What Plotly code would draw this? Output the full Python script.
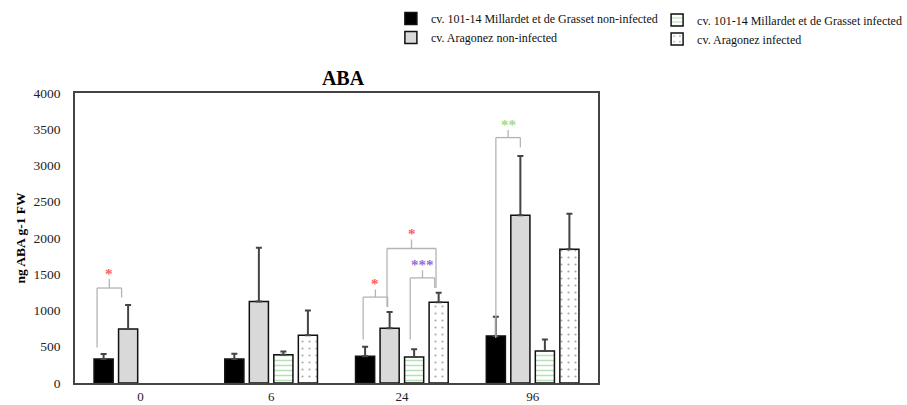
import plotly.graph_objects as go

# ---------------- data ----------------
categories = ["0", "6", "24", "96"]

series_names = [
    "cv. 101-14 Millardet et de Grasset non-infected",
    "cv. Aragonez non-infected",
    "cv. 101-14 Millardet et de Grasset infected",
    "cv. Aragonez infected",
]

black_vals = [330, 330, 370, 650]
black_err = [70, 75, 130, 265]

gray_vals = [745, 1125, 755, 2315]
gray_err = [330, 740, 225, 815]

green_vals = [None, 390, 360, 440]
green_err = [0, 45, 105, 160]

dotted_vals = [None, 660, 1115, 1845]
dotted_err = [0, 340, 130, 490]

y_ticks = [0, 500, 1000, 1500, 2000, 2500, 3000, 3500, 4000]

# significance brackets
br_group = [0, 2, 2, 2, 3]
br_left_bar = [0, 0, 2, 1, 0]
br_right_bar = [1, 1, 3, 3, 1]
br_shift = [-0.05, -0.015, -0.03, -0.02, 0.0]
br_left_bottom = [490, 600, 600, 1050, 620]
br_right_bottom = [1180, 1050, 1310, 1310, 3250]
br_level = [1310, 1185, 1450, 1855, 3385]
br_tick_top = [1435, 1290, 1555, 1980, 3490]
br_label = ["*", "*", "***", "*", "**"]
br_color = ["#ff5b5b", "#ff5b5b", "#9a6ad8", "#ff5b5b", "#9ede7c"]

# ---------------- style ----------------
FONT = "Liberation Serif, Times New Roman, serif"
BARGAP = 0.25
BARGROUPGAP = 0.22
N = 4

fig = go.Figure()

def add_bar(name, vals, errs, fill, pattern=None, legend="legend"):
    fig.add_trace(go.Bar(
        x=categories, y=vals, name=name,
        marker=dict(color=fill, line=dict(color="#111111", width=1.5),
                    pattern=pattern if pattern else dict(shape="")),
        error_y=dict(type="data", array=errs, arrayminus=[0] * len(errs),
                     symmetric=False, color="#444444", thickness=2, width=3),
        legend=legend,
    ))

add_bar(series_names[0], black_vals, black_err, "#000000", legend="legend")
add_bar(series_names[1], gray_vals, gray_err, "#d9d9d9", legend="legend")
add_bar(series_names[2], green_vals, green_err, "#ffffff",
        pattern=dict(shape="-", fgcolor="#72c272", bgcolor="#ffffff", size=5, solidity=0.3),
        legend="legend2")
add_bar(series_names[3], dotted_vals, dotted_err, "#ffffff",
        pattern=dict(shape=".", fgcolor="#555555", bgcolor="#ffffff", size=7, solidity=0.08),
        legend="legend2")

slot = (1 - BARGAP) / N
def bar_x(group, bar):
    return group - (1 - BARGAP) / 2 + slot * (bar + 0.5)

line_style = dict(color="#b4b4b4", width=1.3)
for i in range(len(br_group)):
    xl = bar_x(br_group[i], br_left_bar[i]) + br_shift[i]
    xr = bar_x(br_group[i], br_right_bar[i]) + br_shift[i]
    xm = (xl + xr) / 2
    segs = [
        (xl, br_left_bottom[i], xl, br_level[i]),
        (xr, br_right_bottom[i], xr, br_level[i]),
        (xl, br_level[i], xr, br_level[i]),
        (xm, br_level[i], xm, br_tick_top[i]),
    ]
    for x0, y0, x1, y1 in segs:
        fig.add_shape(type="line", xref="x", yref="y", x0=x0, y0=y0, x1=x1, y1=y1,
                      line=line_style, layer="above")
    fig.add_annotation(x=xm, y=br_tick_top[i], xref="x", yref="y",
                       text="<b>" + br_label[i] + "</b>",
                       showarrow=False, yanchor="bottom", xanchor="center",
                       font=dict(family=FONT, size=15, color=br_color[i]), yshift=-5)

fig.update_layout(
    width=907, height=405,
    margin=dict(l=75, r=309, t=93, b=22, autoexpand=False),
    paper_bgcolor="white", plot_bgcolor="white",
    barmode="group", bargap=BARGAP, bargroupgap=BARGROUPGAP,
    font=dict(family=FONT, size=13, color="#222222"),
    title=dict(text="<b>ABA</b>", x=343 / 907, xref="container", xanchor="center",
               y=1 - 78 / 405, yref="container", yanchor="middle",
               font=dict(family=FONT, size=20, color="#000000")),
    legend=dict(x=0.604, y=1.307, xanchor="left", yanchor="top", orientation="v",
                font=dict(family=FONT, size=12, color="#111111"),
                bgcolor="rgba(0,0,0,0)", tracegroupgap=0),
    legend2=dict(x=1.113, y=1.302, xanchor="left", yanchor="top", orientation="v",
                 font=dict(family=FONT, size=12, color="#111111"),
                 bgcolor="rgba(0,0,0,0)", tracegroupgap=0),
    showlegend=True,
)

fig.update_xaxes(type="category", range=[-0.5, 3.5], showline=True, mirror=True,
                 linecolor="#444444", linewidth=1.5, ticks="", showgrid=False,
                 ticklabelstandoff=1, tickfont=dict(family=FONT, size=13, color="#222222"))
fig.update_yaxes(range=[0, 4000], tickvals=y_ticks, showline=True, mirror=True,
                 linecolor="#444444", linewidth=1.5, ticks="", showgrid=False, zeroline=False,
                 ticklabelstandoff=10,
                 tickfont=dict(family=FONT, size=13.5, color="#222222"),
                 title=dict(text="<b>ng ABA g-1 FW</b>", standoff=5,
                            font=dict(family=FONT, size=13.5, color="#000000")))

fig.write_html("out.html")
